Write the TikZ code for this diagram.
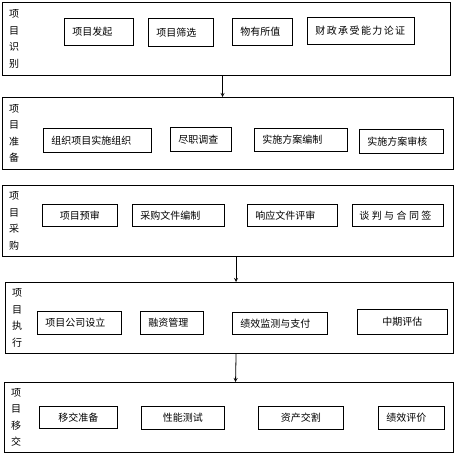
\documentclass[tikz,border=0pt]{standalone}
\usepackage{fontspec}
\setmainfont{Noto Sans CJK SC}
\usetikzlibrary{positioning, arrows}
\tikzset{
    >=stealth, % arrow heads between the stages
    stage/.style={draw, line width=1.1pt, anchor=north west, inner sep=0pt}, % outer box of a stage
    task/.style={draw, line width=0.9pt, anchor=north west, inner xsep=8pt, inner ysep=0pt, align=left, font=\fontsize{10}{12}\selectfont}, % one step
    phase/.style={anchor=west, align=center, inner sep=0pt, font=\fontsize{10}{16.5}\selectfont}, % vertical stage name
}

\begin{document}
\begin{tikzpicture}[x=1pt, y=-1pt]
    \useasboundingbox (0,0) rectangle (454,458);
    % stages
    \node[stage, minimum width=448pt, minimum height=73pt] (ident) at (2,2) {};
    \node[stage, minimum width=451pt, minimum height=72pt] (prep) at (2,97) {};
    \node[stage, minimum width=451pt, minimum height=71pt] (buy) at (2,185) {};
    \node[stage, minimum width=448pt, minimum height=71pt] (exec) at (5,282) {};
    \node[stage, minimum width=449pt, minimum height=70pt] (hand) at (4,382) {};
    \node[phase] (identname) at ([xshift=7pt]ident.west) {项\\目\\识\\别};
    \node[phase] (prepname) at ([xshift=7pt]prep.west) {项\\目\\准\\备};
    \node[phase] (buyname) at ([xshift=7pt]buy.west) {项\\目\\采\\购};
    \node[phase] (execname) at ([xshift=7pt]exec.west) {项\\目\\执\\行};
    \node[phase] (handname) at ([xshift=7pt]hand.west) {项\\目\\移\\交};
    % steps
    \node[task, text width=53pt, minimum height=27pt] (start) at (64,18) {项目发起};
    \node[task, text width=49pt, minimum height=28pt] (screen) at (148,18) {项目筛选};
    \node[task, text width=44pt, minimum height=27pt] (vfm) at (232,18) {物有所值};
    \node[task, text width=91pt, minimum height=27pt] (fiscal) at (307,17) {\addfontfeatures{LetterSpace=14}财政承受能力论证};
    \node[task, text width=92pt, minimum height=24pt] (organize) at (43,128) {组织项目实施组织};
    \node[task, text width=45pt, minimum height=24pt] (duediligence) at (170,127) {尽职调查};
    \node[task, text width=77pt, minimum height=23pt] (plan) at (254,128) {实施方案编制};
    \node[task, text width=68pt, minimum height=24pt] (review) at (359,129) {实施方案审核};
    \node[task, text width=59pt, minimum height=22pt, inner xsep=8pt, align=center] (prereview) at (42,204) {项目预审};
    \node[task, text width=76pt, minimum height=22pt] (tenderdoc) at (132,204) {采购文件编制};
    \node[task, text width=74pt, minimum height=22pt] (bideval) at (247,204) {响应文件评审};
    \node[task, text width=77pt, minimum height=22pt, inner xsep=7pt] (negotiate) at (352,204) {\addfontfeatures{LetterSpace=24}谈判与合同签};
    \node[task, text width=68pt, minimum height=23pt] (company) at (37,311) {项目公司设立};
    \node[task, text width=47pt, minimum height=23pt] (finance) at (140,311) {融资管理};
    \node[task, text width=79pt, minimum height=22pt] (monitor) at (232,312) {绩效监测与支付};
    \node[task, text width=74pt, minimum height=25pt, align=center] (midterm) at (357,309) {中期评估};
    \node[task, text width=62pt, minimum height=22pt, align=center] (handprep) at (39,406) {移交准备};
    \node[task, text width=67pt, minimum height=23pt, align=center] (testing) at (141,406) {性能测试};
    \node[task, text width=69pt, minimum height=23pt, align=center] (assets) at (258,406) {资产交割};
    \node[task, text width=50pt, minimum height=23pt] (evaluate) at (378,406) {绩效评价};
    % flow between stages
    \draw[->, line width=0.8pt] ([xshift=-4pt]ident.south) -- ([xshift=-5.5pt]prep.north);
    \draw[->, line width=0.8pt] ([xshift=8pt]buy.south) -- ([xshift=6.5pt]exec.north);
    \draw[->, line width=0.8pt] ([xshift=6.5pt]exec.south) -- ([xshift=6.5pt]hand.north);
\end{tikzpicture}
\end{document}
